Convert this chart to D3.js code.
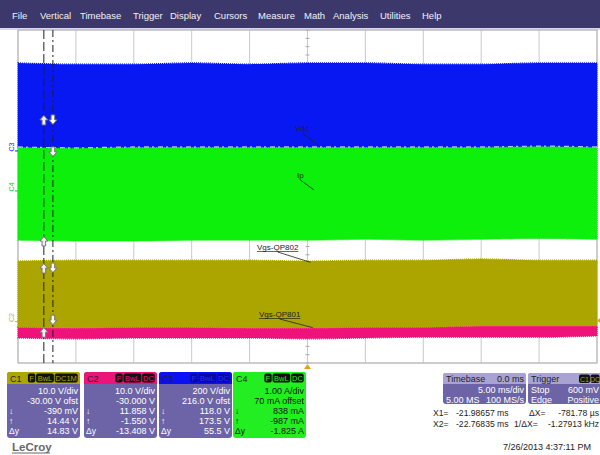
<!DOCTYPE html>
<html><head><meta charset="utf-8">
<script src="https://cdn.jsdelivr.net/npm/d3@7"></script>
<style>body{margin:0;background:#fff}svg{display:block;font-family:"Liberation Sans",Arial,sans-serif}</style>
</head><body><svg id="c" width="600" height="455"></svg>
<script>
// ---- data (trace envelopes in divisions, time in ms) ----
const timeMs = [-25,-20,-15,-10,-5,0,5,10,15,20,25];
const c3Upper = [3.21,3.18,3.18,3.21,3.18,3.21,3.21,3.18,3.18,3.21,3.21];
const c3Lower = [1.19,1.17,1.19,1.19,1.19,1.19,1.19,1.19,1.19,1.21,1.19];
const c4Upper = c3Lower;
const c4Lower = [-1.05,-1.07,-1.07,-1.05,-1.05,-1.05,-1.03,-1.05,-1.03,-1.01,-1.03];
const c1Upper = [-1.55,-1.53,-1.53,-1.53,-1.53,-1.55,-1.53,-1.53,-1.50,-1.53,-1.53];
const c1Lower = [-3.14,-3.16,-3.14,-3.14,-3.16,-3.16,-3.14,-3.14,-3.11,-3.11,-3.11];
const c2Upper = c1Lower;
const c2Lower = [-3.40,-3.42,-3.40,-3.40,-3.40,-3.42,-3.40,-3.38,-3.38,-3.38,-3.35];
const menuItems = ["File","Vertical","Timebase","Trigger","Display","Cursors","Measure","Math","Analysis","Utilities","Help"];
const menuX = [12,40,80,133,170,214,258,304,333,380,422];
const cursorTimes = [-21.98657,-22.76835];
// cursor markers: [cursor index, level in div, up?]
const markers = [[1,1.84,true],[0,1.84,false],[0,1.07,false],[1,-1.07,true],[1,-1.72,true],[0,-1.72,false],[0,-2.97,false],[1,-3.26,true]];
const annotations = [
  {text:"Vdc", lx:295, ly:131, t:0.9, d:1.24, u:false},
  {text:"Ip", lx:297, ly:178, t:0.55, d:0.16, u:false},
  {text:"Vgs-QP802", lx:257, ly:250, t:0.25, d:-1.58, u:true},
  {text:"Vgs-QP801", lx:259, ly:317, t:0.45, d:-3.15, u:true}
];
const channelBoxes = [
  {name:"C1", badges:["F","BwL","DC1M"], head:"#ada600", body:"#6c64a6", text:"#fff",
   rows:["10.0 V/div","-30.00 V ofst","-390 mV","14.44 V","14.83 V"]},
  {name:"C2", badges:["F","BwL","DC"], head:"#ec1479", body:"#6c64a6", text:"#fff",
   rows:["10.0 V/div","-30.000 V","11.858 V","-1.550 V","-13.408 V"]},
  {name:"C3", badges:["F","BwL","DC"], head:"#0a10f4", body:"#6c64a6", text:"#fff",
   rows:["200 V/div","216.0 V ofst","118.0 V","173.5 V","55.5 V"]},
  {name:"C4", badges:["F","BwL","DC"], head:"#22ee22", body:"#22ee22", text:"#111",
   rows:["1.00 A/div","70 mA offset","838 mA","-987 mA","-1.825 A"]}
];
const rowSymbols = ["","","\u2193","\u2191","\u0394y"];

// ---- layout ----
const svg = d3.select("#c");
const gx0=18, gx1=597, gy0=30, gy1=363;
const x = d3.scaleLinear().domain([-25,25]).range([gx0,gx1]);
const y = d3.scaleLinear().domain([-4,4]).range([gy1,gy0]);

// menu bar
svg.append("rect").attr("x",0).attr("y",0).attr("width",600).attr("height",28).attr("fill","#3d386c");
svg.append("rect").attr("x",0).attr("y",28).attr("width",600).attr("height",2).attr("fill","#d9d6ee");
svg.selectAll(".menu").data(menuItems).join("text")
  .attr("x",(d,i)=>menuX[i]).attr("y",19).attr("fill","#f2f2f2").attr("font-size",9.5).text(d=>d);

// grid
const grid = svg.append("g");
grid.selectAll(".vl").data(d3.range(-25,26,5)).join("line")
  .attr("x1",d=>x(d)).attr("x2",d=>x(d)).attr("y1",gy0).attr("y2",gy1)
  .attr("stroke","#c9c9c9").attr("stroke-width",1);
grid.selectAll(".hl").data(d3.range(-4,5,1)).join("line")
  .attr("x1",gx0).attr("x2",gx1).attr("y1",d=>y(d)).attr("y2",d=>y(d))
  .attr("stroke","#c9c9c9").attr("stroke-width",1);
grid.selectAll(".ct").data(d3.range(-4,4.01,0.2)).join("line")
  .attr("x1",x(0)-2).attr("x2",x(0)+2).attr("y1",d=>y(d)).attr("y2",d=>y(d)).attr("stroke","#aaa");
grid.selectAll(".ch").data(d3.range(-25,25.01,1)).join("line")
  .attr("y1",y(0)-2).attr("y2",y(0)+2).attr("x1",d=>x(d)).attr("x2",d=>x(d)).attr("stroke","#aaa");
grid.append("rect").attr("x",gx0).attr("y",gy0).attr("width",gx1-gx0).attr("height",gy1-gy0)
  .attr("fill","none").attr("stroke","#b5b5b5");

// traces
function band(upper, lower, color){
  const data = timeMs.map((t,i)=>({t, u:upper[i], l:lower[i]}));
  const area = d3.area().x(d=>x(d.t)).y0(d=>y(d.l)).y1(d=>y(d.u)).curve(d3.curveMonotoneX);
  svg.append("path").datum(data).attr("d",area).attr("fill",color)
    .attr("stroke",color).attr("stroke-width",1.2).attr("stroke-dasharray","1 1");
}
band(c2Upper,c2Lower,"#ef127a");
band(c1Upper,c1Lower,"#aca500");
band(c4Upper,c4Lower,"#0cf00c");
band(c3Upper,c3Lower,"#0818f2");
svg.append("path").datum(timeMs.map((t,i)=>({t,v:c3Lower[i]})))
  .attr("d",d3.line().x(d=>x(d.t)).y(d=>y(d.v)).curve(d3.curveMonotoneX))
  .attr("fill","none").attr("stroke","#fff").attr("stroke-width",1.2).attr("stroke-dasharray","5 3 2 4").attr("opacity",0.7);

// cursors: X2 (left) long dash, X1 (right) dash-dot
svg.append("line").attr("x1",x(cursorTimes[1])).attr("x2",x(cursorTimes[1])).attr("y1",gy0).attr("y2",gy1)
  .attr("stroke","#222").attr("stroke-dasharray","9 3");
svg.append("line").attr("x1",x(cursorTimes[0])).attr("x2",x(cursorTimes[0])).attr("y1",gy0).attr("y2",gy1)
  .attr("stroke","#222").attr("stroke-dasharray","7 3 2 3");
function arrowPath(cx,cy,up){
  const s = up?-1:1;
  return `M${cx-1.8},${cy-5*s} L${cx+1.8},${cy-5*s} L${cx+1.8},${cy} L${cx+4},${cy} L${cx},${cy+4.5*s} L${cx-4},${cy} L${cx-1.8},${cy} Z`;
}
svg.selectAll(".mk").data(markers).join("path")
  .attr("d",d=>arrowPath(x(cursorTimes[d[0]]), y(d[1]), d[2]))
  .attr("fill",d=>d[2]?"#eeeeee":"#fff").attr("stroke","#777").attr("stroke-width",1);

// channel markers on left
[["C3",c3Lower[0],"#1a2ad0"],["C4",0.23,"#22c022"],["C2",-2.91,"#b8b050"]].forEach(([t,d,c])=>{
  const yy=y(d);
  svg.append("text").attr("transform",`translate(14,${yy}) rotate(-90)`).attr("font-size",7)
    .attr("fill",c).attr("text-anchor","middle").text(t);
  svg.append("line").attr("x1",15).attr("x2",18).attr("y1",yy+4).attr("y2",yy+4).attr("stroke",c);
});
svg.append("path").attr("d",`M${gx1},${y(-2.98)} l4,-3 l0,6 z`).attr("fill","#c8b400");
svg.append("path").attr("d",`M${x(0)},${gy1+1} l-3.5,5 l7,0 z`).attr("fill","#e0a020");

// annotations
annotations.forEach(a=>{
  const t = svg.append("text").attr("x",a.lx).attr("y",a.ly).attr("font-size",8).attr("fill","#222").text(a.text);
  const w = t.node().getComputedTextLength();
  if(a.u) svg.append("line").attr("x1",a.lx).attr("x2",a.lx+w).attr("y1",a.ly+1.5).attr("y2",a.ly+1.5).attr("stroke","#222").attr("stroke-width",0.7);
  svg.append("line").attr("x1",a.lx+w*0.5).attr("y1",a.ly+2).attr("x2",x(a.t)).attr("y2",y(a.d))
    .attr("stroke","#222").attr("stroke-width",0.8);
});

// channel boxes
const boxX=[7,84,159,233], bw=73, by=372, bh=66;
channelBoxes.forEach((b,i)=>{
  const g = svg.append("g").attr("transform",`translate(${boxX[i]},${by})`);
  g.append("rect").attr("width",bw).attr("height",bh).attr("rx",3).attr("fill",b.body);
  g.append("path").attr("d",`M0,12 L0,3 Q0,0 3,0 L${bw-3},0 Q${bw},0 ${bw},3 L${bw},12 Z`).attr("fill",b.head);
  g.append("text").attr("x",3).attr("y",9.5).attr("font-size",9).attr("fill","#222").text(b.name);
  let bxr = bw-1.5;
  const widths = b.badges.map(s=>s.length*5.2+3);
  for(let k=b.badges.length-1;k>=0;k--){
    const wdt = widths[k]; bxr -= wdt;
    g.append("rect").attr("x",bxr).attr("y",1.5).attr("width",wdt-0.8).attr("height",9).attr("rx",2).attr("fill",i===2?"#0a0a9a":"#111");
    g.append("text").attr("x",bxr+(wdt-0.8)/2).attr("y",9.2).attr("text-anchor","middle").attr("font-size",7.5)
      .attr("fill",i===2?"#2030ff":b.head).text(b.badges[k]);
  }
  b.rows.forEach((r,k)=>{
    g.append("text").attr("x",bw-2).attr("y",22+k*10).attr("text-anchor","end").attr("font-size",9)
      .attr("fill",b.text).text(r);
    if(rowSymbols[k]) g.append("text").attr("x",2).attr("y",22+k*10).attr("font-size",8.5)
      .attr("fill",b.text).text(rowSymbols[k]);
  });
});

// LeCroy
svg.append("text").attr("x",12).attr("y",451).attr("font-size",11.5).attr("font-weight","bold")
  .attr("fill","#666").text("LeCroy");
svg.append("line").attr("x1",12).attr("x2",50).attr("y1",453).attr("y2",453).attr("stroke","#666");

// timebase box
const tb = svg.append("g").attr("transform","translate(443,373)");
tb.append("rect").attr("width",83).attr("height",31).attr("rx",3).attr("fill","#6c64a6");
tb.append("path").attr("d","M0,11 L0,3 Q0,0 3,0 L80,0 Q83,0 83,3 L83,11 Z").attr("fill","#a9a3d3");
tb.append("text").attr("x",3).attr("y",9).attr("font-size",9).attr("fill","#222").text("Timebase");
tb.append("text").attr("x",81).attr("y",9).attr("font-size",9).attr("text-anchor","end").attr("fill","#222").text("0.0 ms");
tb.append("text").attr("x",81).attr("y",20).attr("font-size",9).attr("text-anchor","end").attr("fill","#fff").text("5.00 ms/div");
tb.append("text").attr("x",3).attr("y",30).attr("font-size",9).attr("fill","#fff").text("5.00 MS");
tb.append("text").attr("x",81).attr("y",30).attr("font-size",9).attr("text-anchor","end").attr("fill","#fff").text("100 MS/s");
// trigger box
const tr = svg.append("g").attr("transform","translate(528,373)");
tr.append("rect").attr("width",76).attr("height",31).attr("rx",3).attr("fill","#6c64a6");
tr.append("path").attr("d","M0,11 L0,3 Q0,0 3,0 L76,0 L76,11 Z").attr("fill","#a9a3d3");
tr.append("text").attr("x",3).attr("y",9).attr("font-size",9).attr("fill","#222").text("Trigger");
tr.append("rect").attr("x",51).attr("y",1.5).attr("width",11).attr("height",8.5).attr("rx",2).attr("fill","#111");
tr.append("text").attr("x",56.5).attr("y",8.8).attr("font-size",7).attr("text-anchor","middle").attr("fill","#ada600").text("C1");
tr.append("rect").attr("x",62.5).attr("y",1.5).attr("width",9).attr("height",8.5).attr("rx",2).attr("fill","#111");
tr.append("text").attr("x",67).attr("y",8.8).attr("font-size",7).attr("text-anchor","middle").attr("fill","#ada600").text("DC");
tr.append("text").attr("x",3).attr("y",20).attr("font-size",9).attr("fill","#fff").text("Stop");
tr.append("text").attr("x",71).attr("y",20).attr("font-size",9).attr("text-anchor","end").attr("fill","#fff").text("600 mV");
tr.append("text").attr("x",3).attr("y",30).attr("font-size",9).attr("fill","#fff").text("Edge");
tr.append("text").attr("x",71).attr("y",30).attr("font-size",9).attr("text-anchor","end").attr("fill","#fff").text("Positive");

// cursor readouts
const ro = [["X1=","-21.98657 ms","\u0394X=","-781.78 \u00b5s"],["X2=","-22.76835 ms","1/\u0394X=","-1.27913 kHz"]];
ro.forEach((r,k)=>{
  const yy = 416+k*11;
  svg.append("text").attr("x",433).attr("y",yy).attr("font-size",8.6).attr("fill","#222").text(r[0]);
  svg.append("text").attr("x",456).attr("y",yy).attr("font-size",8.6).attr("fill","#222").text(r[1]);
  svg.append("text").attr("x",k?514:529).attr("y",yy).attr("font-size",8.6).attr("fill","#222").text(r[2]);
  svg.append("text").attr("x",599).attr("y",yy).attr("font-size",8.6).attr("text-anchor","end").attr("fill","#222").text(r[3]);
});
svg.append("text").attr("x",503).attr("y",450).attr("font-size",9).attr("fill","#222").text("7/26/2013 4:37:11 PM");
</script></body></html>
